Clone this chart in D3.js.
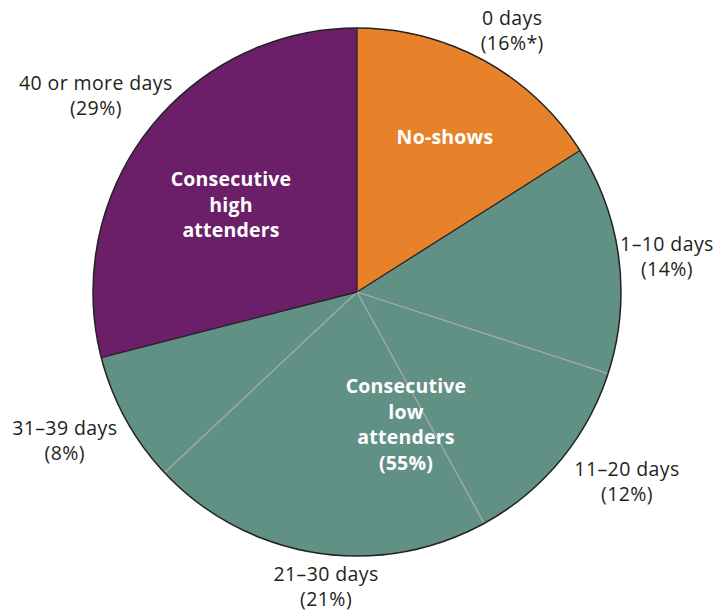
<!DOCTYPE html>
<html><head><meta charset="utf-8">
<script src="https://cdn.jsdelivr.net/npm/d3@7"></script>
<style>body{margin:0;background:#fff}</style>
</head><body>
<svg id="c" width="721" height="612"></svg>
<script>
const categories = ["0 days","1–10 days","11–20 days","21–30 days","31–39 days","40 or more days"];
const values = [16,14,12,21,8,29];
const valueLabels = ["(16%*)","(14%)","(12%)","(21%)","(8%)","(29%)"];
const groups = ["none","low","low","low","low","high"];
const groupNames = {none:["No-shows"], low:["Consecutive","low","attenders","(55%)"], high:["Consecutive","high","attenders"]};
const colors = {none:"#E8822A", low:"#619184", high:"#6A1F68"};

// layout for outer labels: [angle offset (deg), radius]
const labelLayout = [[1.9,304],[0.6,312],[-4.5,330],[-3,296],[1.8,328],[-0.8,327]];
const groupLayout = {none:[88,-155], low:[49,94], high:[-126,-113]};

const cx = 357, cy = 292, R = 264;
const svg = d3.select("#c");
const g = svg.append("g").attr("transform",`translate(${cx},${cy})`);
const data = categories.map((c,i)=>({cat:c, v:values[i], lab:valueLabels[i], grp:groups[i], i}));
const pie = d3.pie().value(d=>d.v).sort(null);
const arcs = pie(data);
const arc = d3.arc().innerRadius(0).outerRadius(R);

g.selectAll("path.s").data(arcs).join("path").attr("class","s")
  .attr("d",arc).attr("fill",d=>colors[d.data.grp]).attr("stroke","none");

arcs.forEach((a,k)=>{
  const prev = arcs[(k-1+arcs.length)%arcs.length];
  const same = prev.data.grp===a.data.grp;
  const ang = a.startAngle;
  g.append("line").attr("x1",0).attr("y1",0)
    .attr("x2",R*Math.sin(ang)).attr("y2",-R*Math.cos(ang))
    .attr("stroke", same?"#a9a9a9":"#222").attr("stroke-width",1.3);
});
g.append("circle").attr("r",R).attr("fill","none").attr("stroke","#222").attr("stroke-width",1.5);

const font = "'Open Sans', 'Noto Sans', sans-serif";
arcs.forEach((a,k)=>{
  const [off,r] = labelLayout[k];
  const ang = (a.startAngle+a.endAngle)/2 + off*Math.PI/180;
  const x = r*Math.sin(ang), y = -r*Math.cos(ang);
  [a.data.cat, a.data.lab].forEach((s,i)=>{
    g.append("text").attr("text-anchor","middle").attr("font-family",font)
      .attr("font-size",19.5).attr("letter-spacing",0.4).attr("fill","#231f20")
      .attr("x",x).attr("y",y+(i===0?-12.5:12.5)+7).text(s);
  });
});
Object.keys(groupNames).forEach(k=>{
  const lines = groupNames[k];
  const [x,y] = groupLayout[k];
  lines.forEach((l,i)=>{
    g.append("text").attr("text-anchor","middle").attr("font-family",font)
      .attr("font-size",19.5).attr("letter-spacing",0.2).attr("font-weight","bold").attr("fill","#fff")
      .attr("x",x).attr("y",y+i*25.5+7).text(l);
  });
});
</script>
</body></html>
